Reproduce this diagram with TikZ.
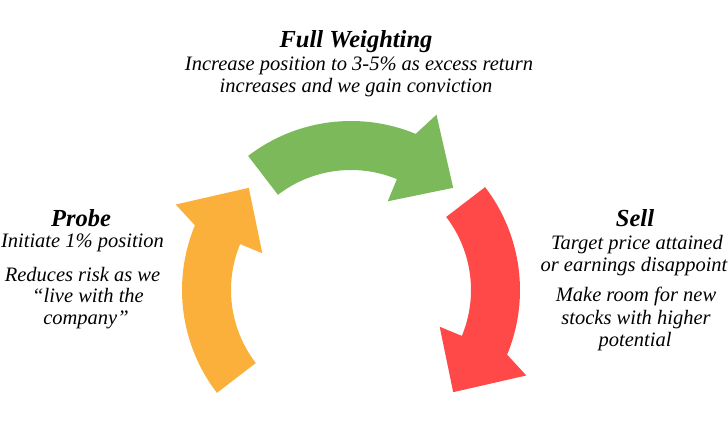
\documentclass[tikz,border=0pt]{standalone}
\usepackage{fontspec}
\setmainfont{Liberation Serif}
\definecolor{arrOrange}{RGB}{251,176,59}
\definecolor{arrGreen}{RGB}{124,185,90}
\definecolor{arrRed}{RGB}{255,72,72}
\newcommand{\cycarrow}[4]{% color, tail angle, base angle, tip angle
  \fill[#1] (#2:169pt) arc[start angle=#2, end angle=#3, radius=169pt]
    -- ({#3-3.5}:195pt) -- (#4:144.5pt) -- (#3:96pt) -- (#3:120pt)
    arc[start angle=#3, end angle=#2, radius=120pt] -- cycle;}
\begin{document}
\begin{tikzpicture}[x=1pt,y=1pt,
  ttl/.style={inner sep=0pt, anchor=base, font=\fontsize{24.5}{28}\selectfont\bfseries\itshape},
  txt/.style={inner sep=0pt, anchor=base, font=\fontsize{20.5}{24}\selectfont\itshape}]
\useasboundingbox (0,0) rectangle (728,446);
\begin{scope}[shift={(351,156)}]
  \cycarrow{arrOrange}{217.5}{157.5}{135}
  \cycarrow{arrGreen}{127.5}{67.5}{45}
  \cycarrow{arrRed}{37.5}{-22.5}{-45}
\end{scope}
% Full Weighting
\node[ttl] (fwt) at (356,398.5) {Full Weighting};
\node[txt] (fw1) at (359,375) {Increase position to 3-5\% as excess return};
\node[txt] (fw2) at (356,353) {increases and we gain conviction};
% Probe
\node[ttl] (pt) at (81,219) {Probe};
\node[txt] (p1) at (82.5,198) {Initiate 1\% position};
\node[txt] (p2) at (82.5,164) {Reduces risk as we};
\node[txt] (p3) at (88,143) {“live with the};
\node[txt] (p4) at (86,121) {company”};
% Sell
\node[ttl] (st) at (635,219) {Sell};
\node[txt] (s1) at (637,196) {Target price attained};
\node[txt] (s2) at (634,174) {or earnings disappoint};
\node[txt] (s3) at (636,144) {Make room for new};
\node[txt] (s4) at (636,121.5) {stocks with higher};
\node[txt] (s5) at (635,99) {potential};
\end{tikzpicture}
\end{document}
